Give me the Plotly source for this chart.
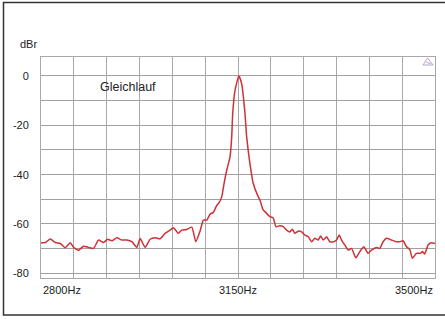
import plotly.graph_objects as go

# ---- data ----
freq_hz = [2800, 2807.7, 2816.5, 2825.4, 2834.2, 2843.1, 2852, 2857.9, 2866.8, 2875.6,
           2884.5, 2893.4, 2902.2, 2911.1, 2918.2, 2926, 2934.8, 2943.7, 2952.6, 2961.4,
           2970.3, 2976.2, 2985, 2993.9, 3002.8, 3011.6, 3020.5, 3029.4, 3035.3, 3044.1,
           3050.1, 3059, 3067.9, 3075, 3082.6, 3088.5, 3094.5, 3100.4, 3106.2, 3112.2,
           3116, 3121.1, 3125.2, 3130, 3135.8, 3138.8, 3140.6, 3144.7, 3151.5,
           3156.5, 3162.4, 3165.4, 3171.2, 3177.1, 3186, 3189, 3194.9, 3197.9, 3203.7,
           3206.7, 3212.6, 3217.4, 3224.5, 3230.4, 3236.4, 3242.3, 3246.4, 3251.1, 3257,
           3263, 3268.9, 3274.8, 3280.8, 3286.6, 3292.5, 3296.7, 3301.4, 3307.4, 3313.2,
           3319.1, 3325.1, 3329.7, 3334, 3339.8, 3345.7, 3351.7, 3359.3, 3366.4, 3373.5,
           3381.1, 3387.2, 3396, 3401.9, 3407.8, 3413.8, 3422.7, 3431.5, 3437.4, 3443.2,
           3449.3, 3455.1, 3459.9, 3467, 3474.1, 3477.6, 3481.7, 3487.6, 3493.6, 3500]
level_dbr = [-67.6, -67.5, -66.1, -67.5, -67.9, -69.6, -67.6, -69.5, -70.6, -69.0,
             -69.5, -69.9, -66.5, -67.5, -66.2, -66.8, -65.6, -66.5, -66.5, -67.2,
             -69.5, -65.9, -69.5, -66.2, -65.6, -66.0, -63.8, -62.5, -61.5, -63.8,
             -62.5, -62.2, -61.3, -67.2, -62.9, -58.4, -58.4, -56.0, -55.3, -52.5,
             -51.5, -49.0, -43.6, -38.2, -32.8, -24.7, -15.2, -5.8, 0.0,
             -3.1, -15.2, -24.7, -35.5, -43.6, -49.0, -50.3, -54.4, -55.0, -56.4,
             -57.0, -57.6, -61.1, -60.7, -61.1, -62.5, -63.2, -62.1, -63.8, -62.9,
             -63.2, -64.5, -65.2, -67.2, -65.8, -66.5, -64.9, -66.5, -65.2, -67.2,
             -67.2, -66.5, -64.5, -66.5, -68.5, -70.6, -69.9, -73.7, -71.2, -69.2,
             -71.9, -70.6, -69.5, -69.9, -67.2, -65.8, -66.5, -67.2, -67.2, -66.8,
             -69.2, -70.3, -73.9, -71.9, -71.9, -71.2, -72.2, -68.5, -67.6, -67.9]

x_range = [2800, 3500]
y_range = [-81.9, 7.7]
x_grid = [2800 + k * 700 / 12 for k in range(13)]
x_labels = {2800: "2800Hz", 3150: "3150Hz", 3500: "3500Hz"}
y_grid = list(range(-80, 1, 10))
y_labels = ["-80", "", "-60", "", "-40", "", "-20", "", "0"]

W, H = 445, 319
ML, MR, MT, MB = 41, 10, 57, 41
PW, PH = W - ML - MR, H - MT - MB


def px(x):
    return (x - ML) / PW


def py(y):
    return (H - MB - y) / PH


fig = go.Figure()
fig.add_trace(go.Scatter(
    x=freq_hz, y=level_dbr, mode="lines",
    line=dict(color="#cc3238", width=1.5, shape="spline", smoothing=0.5),
    hoverinfo="skip", showlegend=False,
))

font = dict(family="Liberation Sans, Arial, sans-serif", size=11, color="#222222")

fig.update_layout(
    width=W, height=H,
    margin=dict(l=ML, r=MR, t=MT, b=MB, autoexpand=False),
    paper_bgcolor="white", plot_bgcolor="white",
    font=font,
    xaxis=dict(range=x_range, tickvals=x_grid, showticklabels=False,
               showgrid=True, gridcolor="#a8a8a8", gridwidth=1,
               showline=True, linecolor="#a8a8a8", mirror=True,
               zeroline=False, fixedrange=True, automargin=False),
    yaxis=dict(range=y_range, tickvals=y_grid, ticktext=y_labels,
               showgrid=True, gridcolor="#a0a0a0", gridwidth=1,
               showline=True, linecolor="#a8a8a8", mirror=True,
               zeroline=False, ticks="", ticklabelstandoff=9,
               tickfont=dict(size=11, color="#222222"), fixedrange=True,
               automargin=False),
)

# x tick labels (left / centre / right aligned like the reference)
anchors = {2800: "left", 3150: "center", 3500: "right"}
for xv, txt in x_labels.items():
    fig.add_annotation(x=xv, xref="x", y=py(290), yref="paper", text=txt,
                       showarrow=False, xanchor=anchors[xv], yanchor="middle",
                       font=dict(size=11, color="#222222"))

# unit label and title text
fig.add_annotation(x=px(28), y=py(44), xref="paper", yref="paper", text="dBr",
                   showarrow=False, xanchor="center", yanchor="middle",
                   font=dict(size=11, color="#222222"))
fig.add_annotation(x=px(98), y=py(87), xref="paper", yref="paper", text="Gleichlauf",
                   showarrow=False, xanchor="left", yanchor="middle",
                   font=dict(size=12.5, color="#222222"))

# outer frame
fig.add_shape(type="rect", xref="paper", yref="paper",
              x0=px(3.5), x1=px(447), y0=py(315), y1=py(2.5),
              line=dict(color="#333333", width=1.5), layer="above")

# small triangle icon at top right
fig.add_shape(type="path", xref="paper", yref="paper",
              path=f"M {px(427.5)} {py(58)} L {px(423)} {py(65)} L {px(433)} {py(65)} Z "
                   f"M {px(426)} {py(62)} L {px(431)} {py(64)}",
              line=dict(color="#b9a6cc", width=1))

fig.write_html("out.html",
               config={"displayModeBar": False, "staticPlot": True},
               post_script="document.body.style.margin='0';document.body.style.overflow='hidden';")
